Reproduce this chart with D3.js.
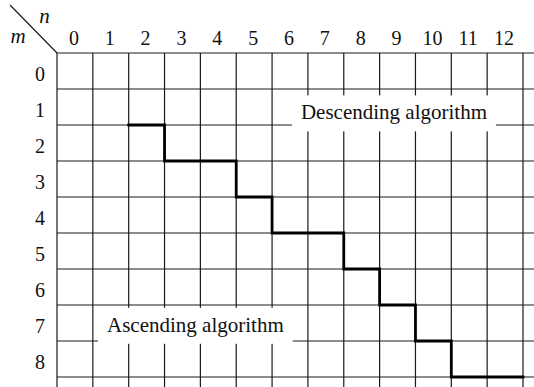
<!DOCTYPE html>
<html>
<head>
<meta charset="utf-8">
<script src="https://cdn.jsdelivr.net/npm/d3@7"></script>
<style>
  html, body { margin: 0; padding: 0; background: #fff; }
  svg { display: block; }
  text { font-family: 'Liberation Serif', 'DejaVu Serif', serif; fill: #111; }
</style>
</head>
<body>
<div id="app"></div>
<script>
// column labels (n) and row labels (m)
const nLabels = [0, 1, 2, 3, 4, 5, 6, 7, 8, 9, 10, 11, 12];
const mLabels = [0, 1, 2, 3, 4, 5, 6, 7, 8];

// boundary between the two algorithms, as grid corner points [n, m]
const boundaryN = [2, 3, 3, 5, 5, 6, 6, 8, 8, 9, 9, 10, 10, 11, 11, 13];
const boundaryM = [2, 2, 3, 3, 4, 4, 5, 5, 6, 6, 7, 7, 8, 8, 9, 9];

// region labels, placed in grid units
const regionNames = ['Descending algorithm', 'Ascending algorithm'];
const regionN = [9.4, 3.86];
const regionM = [1.65, 7.55];

const width = 534;
const height = 387;

const app = d3.select('div#app');
const svg = app
	.append('svg')
	.attr('width', width)
	.attr('height', height)
	.attr('viewBox', [0, 0, width, height]);

const x = d3.scaleLinear().domain([0, 13]).range([57, 523]);
const y = d3.scaleLinear().domain([0, 9]).range([53, 377]);

// grid keeps going past the edge of the picture
const grid = svg.append('g').attr('stroke', '#1a1a1a').attr('stroke-width', 1.2);

grid
	.selectAll('line.v')
	.data(d3.range(0, 15))
	.join('line')
	.attr('class', 'v')
	.attr('x1', (d) => x(d))
	.attr('x2', (d) => x(d))
	.attr('y1', y(0))
	.attr('y2', y(10));

grid
	.selectAll('line.h')
	.data(d3.range(0, 11))
	.join('line')
	.attr('class', 'h')
	.attr('x1', x(0))
	.attr('x2', x(15))
	.attr('y1', (d) => y(d))
	.attr('y2', (d) => y(d));

// staircase boundary
const line = d3
	.line()
	.x((d) => x(d[0]))
	.y((d) => y(d[1]));

svg
	.append('path')
	.datum(d3.zip(boundaryN, boundaryM))
	.attr('d', line)
	.attr('fill', 'none')
	.attr('stroke', '#000')
	.attr('stroke-width', 2.8)
	.attr('stroke-linejoin', 'miter')
	.attr('stroke-linecap', 'square');

// region labels with a white box behind them
const regions = svg
	.selectAll('g.region')
	.data(d3.zip(regionNames, regionN, regionM))
	.join('g')
	.attr('class', 'region')
	.attr('transform', (d) => `translate(${x(d[1])}, ${y(d[2])})`);

regions.append('rect').attr('fill', '#fff');

regions
	.append('text')
	.attr('text-anchor', 'middle')
	.attr('y', 7)
	.style('font-size', '21px')
	.text((d) => d[0]);

regions.each(function () {
	const g = d3.select(this);
	const w = g.select('text').node().getComputedTextLength();
	g.select('rect')
		.attr('x', -w / 2 - 9)
		.attr('width', w + 18)
		.attr('y', -17)
		.attr('height', 36);
});

// axis labels
svg
	.append('g')
	.selectAll('text')
	.data(nLabels)
	.join('text')
	.attr('x', (d) => x(d + 0.5) - 1)
	.attr('y', 45)
	.attr('text-anchor', 'middle')
	.style('font-size', '20px')
	.text((d) => d);

svg
	.append('g')
	.selectAll('text')
	.data(mLabels)
	.join('text')
	.attr('x', 40)
	.attr('y', (d) => y(d + 0.5) + 10)
	.attr('text-anchor', 'middle')
	.style('font-size', '20px')
	.text((d) => d);

// corner: diagonal with m / n
svg
	.append('line')
	.attr('x1', 10)
	.attr('y1', 5)
	.attr('x2', x(0))
	.attr('y2', y(0))
	.attr('stroke', '#1a1a1a')
	.attr('stroke-width', 1.2);

svg
	.append('text')
	.attr('x', 44.5)
	.attr('y', 23)
	.attr('text-anchor', 'middle')
	.style('font-size', '21px')
	.style('font-style', 'italic')
	.text('n');

svg
	.append('text')
	.attr('x', 18)
	.attr('y', 43)
	.attr('text-anchor', 'middle')
	.style('font-size', '21px')
	.style('font-style', 'italic')
	.text('m');
</script>
</body>
</html>
